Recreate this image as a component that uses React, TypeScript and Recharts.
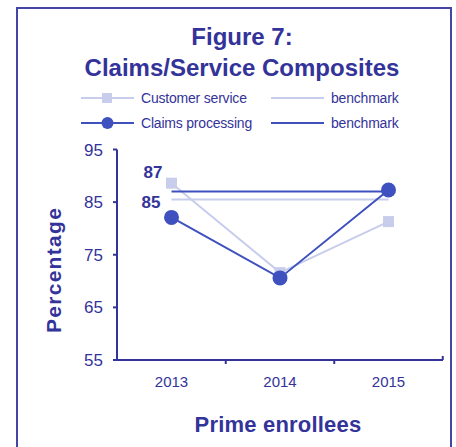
import React from 'react';
import { LineChart, Line, XAxis, YAxis, LabelList, Customized } from 'recharts';

const years = ['2013', '2014', '2015'];
const customerService = [88.6, 71.6, 81.3];
const claimsProcessing = [82.1, 70.6, 87.3];
const customerBenchmark = [85.5, 85.5, 85.5];
const claimsBenchmark = [87.0, 87.0, 87.0];
const yTicks = [55, 65, 75, 85, 95];
const benchmarkLabels = { customer: '85', claims: '87' };

const NAVY = '#333399';
const DARK = '#3F51BF';
const LIGHT = '#C8CDEC';
const FONT = '"Liberation Sans", Arial, sans-serif';

const data = years.map((year, i) => ({
  year,
  cs: customerService[i],
  cp: claimsProcessing[i],
  csb: customerBenchmark[i],
  cpb: claimsBenchmark[i],
}));

const legendItems = [
  { name: 'Customer service', color: LIGHT, marker: 'square' },
  { name: 'benchmark', color: LIGHT, marker: 'none' },
  { name: 'Claims processing', color: DARK, marker: 'circle' },
  { name: 'benchmark', color: DARK, marker: 'none' },
];

const SquareDot = (props: any) => {
  const { cx, cy, index } = props;
  if (cx == null || cy == null) return null;
  return <rect key={`sq-${index}`} x={cx - 5.5} y={cy - 5.5} width={11} height={11} fill={LIGHT} />;
};

const CircleDot = (props: any) => {
  const { cx, cy, index } = props;
  if (cx == null || cy == null) return null;
  return <circle key={`ci-${index}`} cx={cx} cy={cy} r={7.5} fill={DARK} />;
};

const makeBenchLabel = (text: string, dx: number, dy: number) => (props: any) => {
  const { x, y, index } = props;
  if (index !== 0) return null;
  return (
    <text x={x + dx} y={y + dy} textAnchor="end" fill={NAVY} fontFamily={FONT} fontWeight="bold" fontSize={17}>
      {text}
    </text>
  );
};

const HALF_STEP = 54.25;

const XTick = (props: any) => {
  const { x, y, payload, index } = props;
  const axisY = y - 16;
  const tx = x + HALF_STEP;
  return (
    <g>
      <text x={x} y={y} dy="0.71em" textAnchor="middle" fill={NAVY} fontFamily={FONT} fontSize={15}>
        {payload.value}
      </text>
      {index < 2 ? (
        <line x1={tx} x2={tx} y1={axisY} y2={axisY + 4} stroke={NAVY} strokeWidth={2} />
      ) : (
        <line x1={tx} x2={tx} y1={axisY} y2={axisY - 4} stroke={NAVY} strokeWidth={2} />
      )}
    </g>
  );
};

const Decorations = () => (
  <g fontFamily={FONT}>
    <text x={242} y={45} textAnchor="middle" fill={NAVY} fontWeight="bold" fontSize={24}>
      Figure 7:
    </text>
    <text x={242} y={76} textAnchor="middle" fill={NAVY} fontWeight="bold" fontSize={24}>
      Claims/Service Composites
    </text>
    {legendItems.map((item, i) => {
      const col = i % 2;
      const row = Math.floor(i / 2);
      const x0 = col === 0 ? 81 : 271;
      const y0 = row === 0 ? 98 : 123;
      return (
        <g key={i}>
          <line x1={x0} x2={x0 + 53} y1={y0} y2={y0} stroke={item.color} strokeWidth={2} />
          {item.marker === 'square' && <rect x={x0 + 21} y={y0 - 5} width={10} height={10} fill={item.color} />}
          {item.marker === 'circle' && <circle cx={x0 + 26.5} cy={y0} r={6} fill={item.color} />}
          <text x={x0 + 60} y={y0 + 5} fill={NAVY} fontSize={14} letterSpacing={-0.2}>
            {item.name}
          </text>
        </g>
      );
    })}
    <text
      x={61}
      y={270}
      transform="rotate(-90 61 270)"
      textAnchor="middle"
      fill={NAVY}
      fontWeight="bold"
      fontSize={21}
      letterSpacing={1.3}
    >
      Percentage
    </text>
    <text x={278} y={432} textAnchor="middle" fill={NAVY} fontWeight="bold" fontSize={22} letterSpacing={0.2}>
      Prime enrollees
    </text>
  </g>
);

export default function App() {
  return (
    <div style={{ position: 'absolute', left: 0, top: 0, width: 456, height: 447, background: '#fff' }}>
      <div
        style={{
          position: 'absolute',
          left: 16,
          top: 7,
          width: 436,
          height: 460,
          border: '2px solid #4545A5',
          boxSizing: 'border-box',
        }}
      />
      <div style={{ position: 'absolute', left: 0, top: 0 }}>
        <LineChart width={456} height={447} data={data} margin={{ top: 149.5, right: 13, bottom: 57, left: 57 }}>
          <Customized component={Decorations} />
          <XAxis
            dataKey="year"
            padding={{ left: 54.5, right: 54.5 }}
            axisLine={{ stroke: NAVY, strokeWidth: 2 }}
            tickLine={false}
            tickSize={4}
            tickMargin={12}
            height={30}
            tick={<XTick />}
            interval={0}
          />
          <YAxis
            domain={[55, 95]}
            ticks={yTicks}
            width={60}
            axisLine={{ stroke: NAVY, strokeWidth: 2 }}
            tickLine={{ stroke: NAVY, strokeWidth: 2 }}
            tickSize={4}
            tickMargin={10}
            tick={{ fill: NAVY, fontFamily: FONT, fontSize: 17 }}
            interval={0}
          />
          <Line
            dataKey="cs"
            stroke={LIGHT}
            strokeWidth={2}
            dot={<SquareDot />}
            activeDot={false}
            isAnimationActive={false}
          />
          <Line dataKey="csb" stroke={LIGHT} strokeWidth={2} dot={false} activeDot={false} isAnimationActive={false}>
            <LabelList dataKey="csb" content={makeBenchLabel(benchmarkLabels.customer, -11, 9)} />
          </Line>
          <Line
            dataKey="cp"
            stroke={DARK}
            strokeWidth={2}
            dot={<CircleDot />}
            activeDot={false}
            isAnimationActive={false}
          />
          <Line dataKey="cpb" stroke={DARK} strokeWidth={2} dot={false} activeDot={false} isAnimationActive={false}>
            <LabelList dataKey="cpb" content={makeBenchLabel(benchmarkLabels.claims, -9, -14)} />
          </Line>
        </LineChart>
      </div>
    </div>
  );
}
